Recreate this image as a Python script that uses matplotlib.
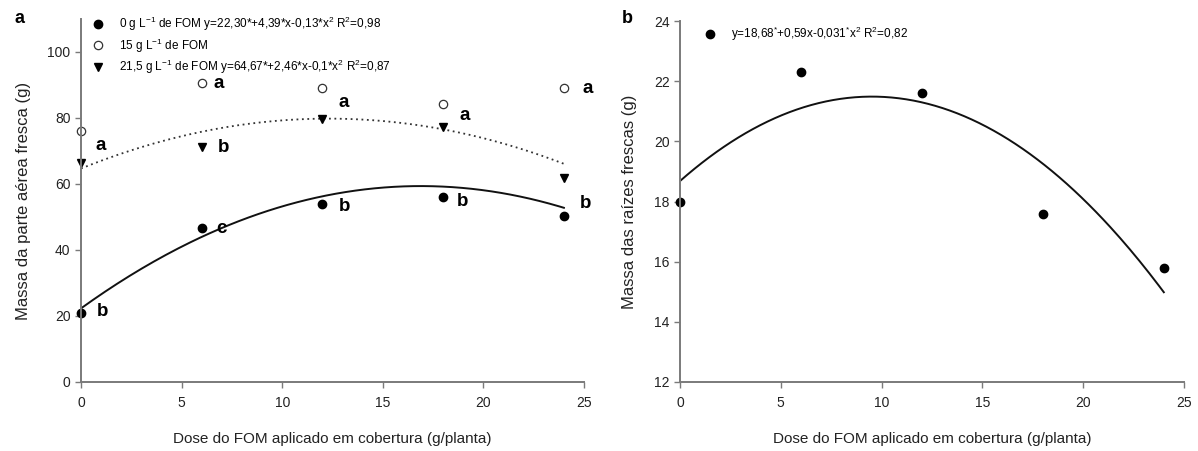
import numpy as np
from matplotlib import pyplot as plt

plt.rcParams['font.family'] = ['Liberation Sans', 'DejaVu Sans']
plt.rcParams['mathtext.fontset'] = 'custom'
plt.rcParams['mathtext.rm'] = 'Liberation Sans'
plt.rcParams['mathtext.it'] = 'Liberation Sans:italic'

# doses do FOM (g/planta)
dose = [0, 6, 12, 18, 24]

# painel a - massa da parte aerea fresca (g)
fom_0 = [20.9, 46.7, 54.0, 56.0, 50.3]
fom_15 = [76.0, 90.6, 89.0, 84.2, 89.0]
fom_215 = [66.4, 71.2, 79.7, 77.3, 61.8]
# coeficientes das regressoes (a + b*x + c*x^2)
coef_0 = [22.30, 4.39, -0.13]
coef_215 = [64.67, 2.46, -0.1]
# letras das medias
letras_txt = ['a', 'b', 'a', 'b', 'c', 'a', 'b', 'a', 'b', 'a', 'b']
letras_x = [0.7, 0.8, 6.6, 6.8, 6.7, 12.8, 12.8, 18.8, 18.7, 24.9, 24.8]
letras_y = [71.8, 21.5, 90.3, 71.2, 46.4, 84.8, 53.3, 80.6, 54.8, 88.8, 54.2]

# painel b - massa das raizes frescas (g)
raiz = [18.0, 22.3, 21.6, 17.6, 15.8]
coef_raiz = [18.68, 0.59, -0.031]

cinza = '#7a7a7a'


def estilo(ax):
    for s in ['top', 'right']:
        ax.spines[s].set_visible(False)
    for s in ['left', 'bottom']:
        ax.spines[s].set_color(cinza)
        ax.spines[s].set_linewidth(1.4)
    ax.tick_params(direction='out', length=4, width=1, color=cinza,
                   labelsize=10, labelcolor='#222222')
    ax.tick_params(axis='x', pad=6)
    ax.set_xlim(0, 25)
    ax.set_xticks([0, 5, 10, 15, 20, 25])
    ax.set_xlabel('Dose do FOM aplicado em cobertura (g/planta)', fontsize=11,
                  labelpad=16, color='#222222')


def quad(c, x):
    return c[0] + c[1] * x + c[2] * x ** 2


fig = plt.figure(figsize=(11.98, 4.51), dpi=100)

# painel a
ax1 = fig.add_axes([0.0676, 0.153, 0.4199, 0.805])
xs = np.linspace(0, 24, 200)
ax1.plot(xs, quad(coef_0, xs), color='#111111', lw=1.4)
ax1.plot(xs, quad(coef_215, xs), color='#333333', lw=1.3, ls=(0, (1, 2)))
ax1.plot(dose, fom_0, 'o', color='black', ms=6, clip_on=False,
         label='0 g L$^{\\mathregular{-1}}$ de FOM y=22,30*+4,39*x-0,13*x$^{\\mathregular{2}}$ R$^{\\mathregular{2}}$=0,98')
ax1.plot(dose, fom_15, 'o', mfc='white', mec='#333333', mew=0.9, ms=6, clip_on=False,
         label='15 g L$^{\\mathregular{-1}}$ de FOM')
ax1.plot(dose, fom_215, 'v', color='black', ms=6, clip_on=False,
         label='21,5 g L$^{\\mathregular{-1}}$ de FOM y=64,67*+2,46*x-0,1*x$^{\\mathregular{2}}$ R$^{\\mathregular{2}}$=0,87')
for t, x, y in zip(letras_txt, letras_x, letras_y):
    ax1.text(x, y, t, fontsize=13.5, fontweight='bold', ha='left', va='center')
ax1.set_ylim(0, 110)
ax1.set_yticks([0, 20, 40, 60, 80, 100])
ax1.set_ylabel('Massa da parte aérea fresca (g)', fontsize=12, labelpad=12, color='#222222')
estilo(ax1)
ax1.legend(loc='upper left', bbox_to_anchor=(0.022, 1.012), frameon=False,
           fontsize=8.5, handlelength=1, handletextpad=1.3, labelspacing=0.3,
           borderpad=0, borderaxespad=0, numpoints=1)
fig.text(0.012, 0.96, 'a', fontsize=13, fontweight='bold', va='center')

# painel b
ax2 = fig.add_axes([0.5676, 0.153, 0.4207, 0.8004])
ax2.plot(xs, quad(coef_raiz, xs), color='#111111', lw=1.4)
ax2.plot(dose, raiz, 'o', color='black', ms=6, clip_on=False,
         label='y=18,68$^{*}$+0,59x-0,031$^{*}$x$^{\\mathregular{2}}$ R$^{\\mathregular{2}}$=0,82')
ax2.set_ylim(12, 24)
ax2.set_yticks([12, 14, 16, 18, 20, 22, 24])
ax2.set_ylabel('Massa das raízes frescas (g)', fontsize=12, labelpad=12, color='#222222')
estilo(ax2)
ax2.legend(loc='upper left', bbox_to_anchor=(0.048, 0.99), frameon=False,
           fontsize=8.5, handlelength=1, handletextpad=1.3,
           borderpad=0, borderaxespad=0, numpoints=1)
fig.text(0.519, 0.96, 'b', fontsize=13, fontweight='bold', va='center')

plt.savefig('out.png', dpi=100)
